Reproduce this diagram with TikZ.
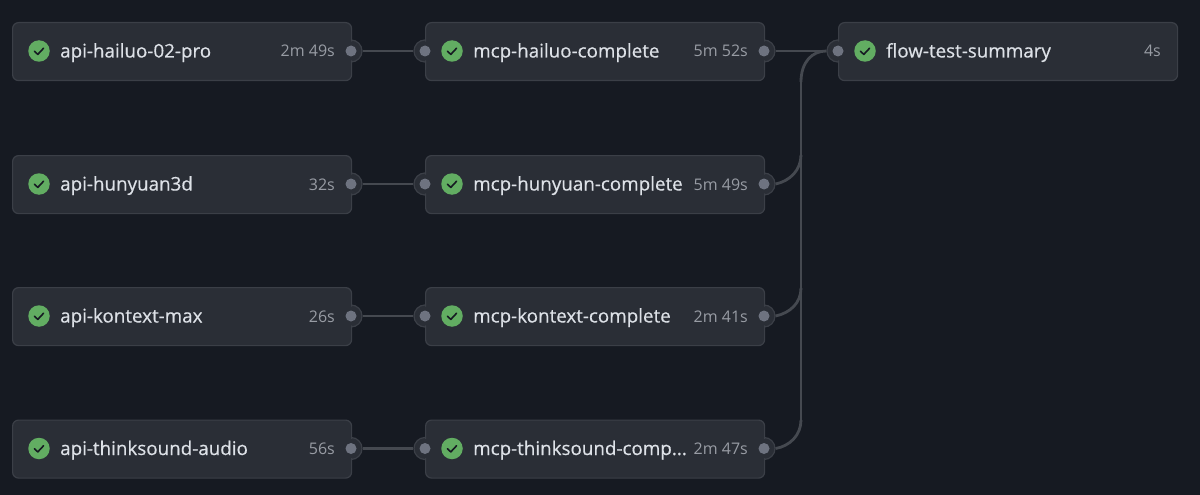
\documentclass[tikz,border=0pt]{standalone}
\usepackage{fontspec}
\setmainfont{Open Sans}
\newfontfamily\namefont[FakeBold=0.5]{Open Sans}
\definecolor{bg}{HTML}{161A22}
\definecolor{card}{HTML}{2A2E36}
\definecolor{edge}{HTML}{3B3F47}
\definecolor{wire}{HTML}{454950}
\definecolor{dot}{HTML}{6E7380}
\definecolor{okgreen}{HTML}{62AD62}
\definecolor{nametext}{HTML}{DDE1E7}
\definecolor{timetext}{HTML}{989CA4}
\tikzset{
 x=1pt,y=-1pt,
 jobbox/.style={draw=edge,line width=1.2pt,fill=card,rounded corners=6pt,minimum width=339pt,minimum height=58pt,anchor=north west,inner sep=0pt},
 jobname/.style={anchor=base west,inner sep=0pt,text=nametext,font=\namefont\fontsize{18.8}{22}\selectfont},
 jobtime/.style={anchor=base east,inner sep=0pt,text=timetext,font=\fontsize{16}{20}\selectfont},
 okicon/.style={circle,fill=okgreen,minimum size=21.5pt,inner sep=0pt},
 tick/.style={draw=bg,line width=1.6pt,line cap=round,line join=round},
 ring/.style={circle,draw=edge,line width=1.2pt,fill=card,minimum size=22pt,inner sep=0pt},
 ringfill/.style={circle,fill=card,minimum size=19pt,inner sep=0pt},
 portdot/.style={circle,fill=dot,minimum size=11pt,inner sep=0pt},
 wireline/.style={draw=wire,line width=2.8pt},
}
% id, x, y(top), name, time, has-in, has-out
\newcommand{\job}[7]{%
 \ifnum#6=1 \node[ring] (#1inR) at (#2,#3+29) {}; \fi
 \ifnum#7=1 \node[ring] (#1outR) at (#2+339,#3+29) {}; \fi
 \node[jobbox] (#1) at (#2,#3) {};
 \ifnum#6=1 \node[ringfill] (#1inF) at (#2,#3+29) {}; \node[portdot] (#1inD) at (#2,#3+29) {}; \fi
 \ifnum#7=1 \node[ringfill] (#1outF) at (#2+339,#3+29) {}; \node[portdot] (#1outD) at (#2+339,#3+29) {}; \fi
 \node[okicon] (#1ok) at (#2+27,#3+29) {};
 \draw[tick] (#2+22.5,#3+29.2) -- (#2+25.8,#3+32.4) -- (#2+31.6,#3+26.2);
 \node[jobname] (#1name) at (#2+48,#3+35.5) {#4};
 \node[jobtime] (#1time) at (#2+323,#3+35) {#5};
}
\begin{document}
\begin{tikzpicture}
\useasboundingbox (0,0) rectangle (1200,495);
\fill[bg] (0,0) rectangle (1200,495);
\job{aa}{12}{22}{api-hailuo-02-pro}{2m 49s}{0}{1}
\job{ab}{12}{155}{api-hunyuan3d}{32s}{0}{1}
\job{ac}{12}{287}{api-kontext-max}{26s}{0}{1}
\job{ad}{12}{419.5}{api-thinksound-audio}{56s}{0}{1}
\job{ma}{425}{22}{mcp-hailuo-complete}{5m 52s}{1}{1}
\job{mb}{425}{155}{mcp-hunyuan-complete}{5m 49s}{1}{1}
\job{mc}{425}{287}{mcp-kontext-complete}{2m 41s}{1}{1}
\job{md}{425}{419.5}{mcp-thinksound-comp...}{2m 47s}{1}{1}
\job{fs}{838}{22}{flow-test-summary}{4s}{1}{0}
\foreach \l/\r in {aa/ma,ab/mb,ac/mc,ad/md}{
 \draw[wireline] (\l outR.east) -- (\r inR.west);
}
\draw[wireline] (maoutR.east) -- (fsinR.west);
\coordinate (trunkTop) at (801,82);
\draw[wireline] (trunkTop) .. controls (801,62) and (812,51) .. (fsinR.west);
\coordinate (tb) at (801,155);
\coordinate (tc) at (801,288);
\coordinate (td) at (801,420);
\draw[wireline] (trunkTop) -- (td);
\draw[wireline] (mboutR.east) .. controls (790,181) and (801,170) .. (tb);
\draw[wireline] (mcoutR.east) .. controls (790,313) and (801,303) .. (tc);
\draw[wireline] (mdoutR.east) .. controls (790,446) and (801,435) .. (td);
\end{tikzpicture}
\end{document}
